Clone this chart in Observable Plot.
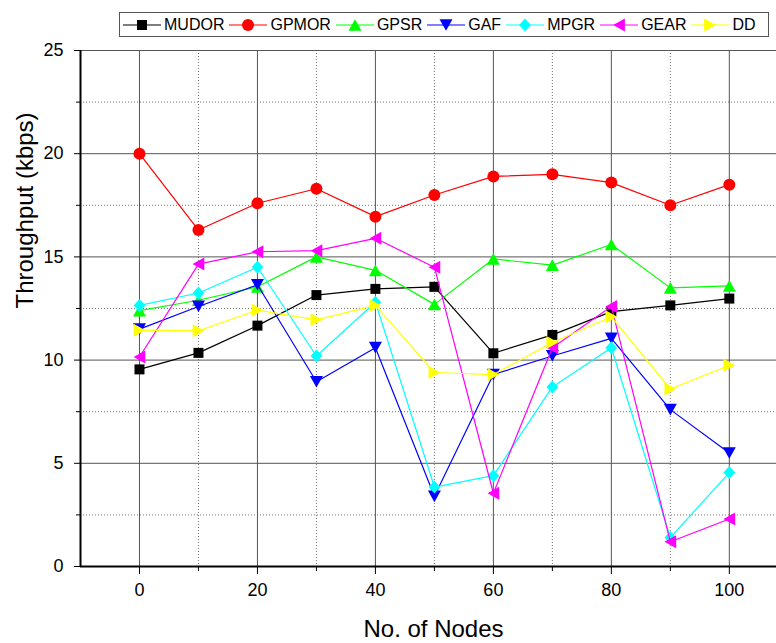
<!DOCTYPE html>
<html>
<head>
<meta charset="utf-8">
<script src="https://cdn.jsdelivr.net/npm/d3@7"></script>
<script src="https://cdn.jsdelivr.net/npm/@observablehq/plot@0.6"></script>
<style>
  html, body { margin: 0; padding: 0; background: #fff; }
  body { width: 776px; height: 643px; overflow: hidden; font-family: "Liberation Sans", Arial, sans-serif; }
  #legendWrap { height: 45px; position: relative; }
  #legend { position: absolute; left: 119px; top: 12px; width: 646px; height: 23px; border: 1px solid #555;
            display: flex; align-items: center; padding-left: 2px; box-sizing: content-box; }
  .item { display: flex; align-items: center; margin-right: 4px; }
  .item span { font-size: 16px; color: #000; margin-left: 2px; white-space: nowrap; }
  svg { display: block; }
  #chart svg { overflow: visible; }
</style>
</head>
<body>
<div id="legendWrap"><div id="legend"></div></div>
<div id="chart"></div>
<script>
// ---- data ----
const nodes = [0, 10, 20, 30, 40, 50, 60, 70, 80, 90, 100];
const seriesNames = ["MUDOR", "GPMOR", "GPSR", "GAF", "MPGR", "GEAR", "DD"];
const seriesColors = ["#000000", "#ff0000", "#00ff00", "#0000ff", "#00ffff", "#ff00ff", "#ffff00"];
const mudor = [9.55, 10.35, 11.67, 13.15, 13.45, 13.55, 10.33, 11.22, 12.35, 12.65, 12.98];
const gpmor = [20.0, 16.3, 17.6, 18.3, 16.95, 18.0, 18.9, 19.0, 18.6, 17.5, 18.5];
const gpsr  = [12.4, 12.9, 13.55, 15.0, 14.35, 12.7, 14.9, 14.6, 15.6, 13.5, 13.6];
const gaf   = [11.5, 12.6, 13.65, 8.95, 10.6, 3.4, 9.3, 10.2, 11.05, 7.6, 5.5];
const mpgr  = [12.65, 13.25, 14.5, 10.2, 12.8, 3.85, 4.4, 8.7, 10.6, 1.4, 4.55];
const gear  = [10.15, 14.65, 15.25, 15.3, 15.9, 14.5, 3.55, 10.6, 12.6, 1.2, 2.3];
const dd    = [11.45, 11.42, 12.42, 11.95, 12.65, 9.4, 9.3, 10.85, 12.1, 8.6, 9.75];
const seriesValues = [mudor, gpmor, gpsr, gaf, mpgr, gear, dd];
const yMajor = [0, 5, 10, 15, 20, 25];
const yMinor = [2.5, 7.5, 12.5, 17.5, 22.5];
const xMajor = [0, 20, 40, 60, 80, 100];
const xMinor = [10, 30, 50, 70, 90];

// ---- symbols (size = W^2) ----
const symSquare = {draw(c, s){ const w = Math.sqrt(s); c.rect(-w/2, -w/2, w, w); }};
const symCircle = {draw(c, s){ const r = Math.sqrt(s)/2; c.moveTo(r, 0); c.arc(0, 0, r, 0, 2*Math.PI); }};
const symUp = {draw(c, s){ const w = Math.sqrt(s); const h = w*0.45; c.moveTo(0,-h); c.lineTo(w/2,h); c.lineTo(-w/2,h); c.closePath(); }};
const symDown = {draw(c, s){ const w = Math.sqrt(s); const h = w*0.45; c.moveTo(0,h); c.lineTo(w/2,-h); c.lineTo(-w/2,-h); c.closePath(); }};
const symDiamond = {draw(c, s){ const w = Math.sqrt(s); c.moveTo(0,-w/2); c.lineTo(w*0.45,0); c.lineTo(0,w/2); c.lineTo(-w*0.45,0); c.closePath(); }};
const symLeft = {draw(c, s){ const w = Math.sqrt(s); const h = w*0.45; c.moveTo(-h,0); c.lineTo(h,-w/2); c.lineTo(h,w/2); c.closePath(); }};
const symRight = {draw(c, s){ const w = Math.sqrt(s); const h = w*0.45; c.moveTo(h,0); c.lineTo(-h,-w/2); c.lineTo(-h,w/2); c.closePath(); }};
const seriesSymbols = [symSquare, symCircle, symUp, symDown, symDiamond, symLeft, symRight];
const seriesSizes = [10, 12, 13, 13, 13, 13, 13];

const rows = seriesNames.flatMap((name, i) =>
  nodes.map((n, j) => ({series: name, idx: i, nodes: n, value: seriesValues[i][j]})));

// ---- marks ----
const font = "Liberation Sans, Arial, sans-serif";
const marks = [
  Plot.ruleY(yMinor, {stroke: "#777", strokeWidth: 1, strokeDasharray: "1,2"}),
  Plot.ruleX(xMinor, {stroke: "#777", strokeWidth: 1, strokeDasharray: "1,2"}),
  Plot.ruleY(yMajor.filter(d => d > 0), {stroke: "#555", strokeWidth: 1}),
  Plot.ruleX(xMajor, {stroke: "#555", strokeWidth: 1}),
  Plot.axisY({ticks: yMajor, tickSize: 6, tickPadding: 11, tickFormat: d => d, fontSize: 18, label: null, stroke: "#000"}),
  Plot.axisY({ticks: yMinor, tickSize: 4, tickFormat: () => "", label: null}),
  Plot.axisX({ticks: xMajor, tickSize: 8, tickPadding: 9, tickFormat: d => d, fontSize: 18, label: null}),
  Plot.axisX({ticks: xMinor, tickSize: 5, tickFormat: () => "", label: null}),
  Plot.ruleX([-10], {stroke: "#000", strokeWidth: 2}),
  Plot.ruleY([0], {stroke: "#000", strokeWidth: 2}),
];
seriesNames.forEach((name, i) => {
  const data = rows.filter(r => r.series === name);
  marks.push(Plot.line(data, {x: "nodes", y: "value", stroke: seriesColors[i], strokeWidth: 1.2}));
  marks.push(Plot.dot(data, {x: "nodes", y: "value", symbol: seriesSymbols[i], r: seriesSizes[i]/Math.sqrt(Math.PI), fill: seriesColors[i], stroke: "none"}));
});
marks.push(Plot.text(["No. of Nodes"], {frameAnchor: "bottom", dy: 70, dx: 5, fontSize: 24, fill: "#000"}));
marks.push(Plot.text(["Throughput (kbps)"], {frameAnchor: "left", dx: -55, rotate: -90, fontSize: 24, fill: "#000"}));

const chart = Plot.plot({
  width: 776,
  height: 598,
  marginTop: 5,
  marginBottom: 77,
  marginLeft: 80,
  marginRight: 0,
  style: {fontFamily: font, color: "#000", background: "#fff", overflow: "visible"},
  x: {domain: [-10, 108]},
  y: {domain: [0, 25]},
  marks
});
document.getElementById("chart").appendChild(chart);

// ---- legend ----
const legend = document.getElementById("legend");
seriesNames.forEach((name, i) => {
  const item = document.createElement("div");
  item.className = "item";
  const ns = "http://www.w3.org/2000/svg";
  const svg = document.createElementNS(ns, "svg");
  svg.setAttribute("width", 40); svg.setAttribute("height", 16);
  const line = document.createElementNS(ns, "line");
  line.setAttribute("x1", 1); line.setAttribute("x2", 39); line.setAttribute("y1", 8); line.setAttribute("y2", 8);
  line.setAttribute("stroke", seriesColors[i]); line.setAttribute("stroke-width", 1.2);
  svg.appendChild(line);
  const p = document.createElementNS(ns, "path");
  const sz = seriesSizes[i];
  p.setAttribute("d", d3.symbol(seriesSymbols[i], sz*sz)());
  p.setAttribute("transform", "translate(20,8)");
  p.setAttribute("fill", seriesColors[i]);
  svg.appendChild(p);
  item.appendChild(svg);
  const t = document.createElement("span");
  t.textContent = name;
  item.appendChild(t);
  legend.appendChild(item);
});
</script>
</body>
</html>
